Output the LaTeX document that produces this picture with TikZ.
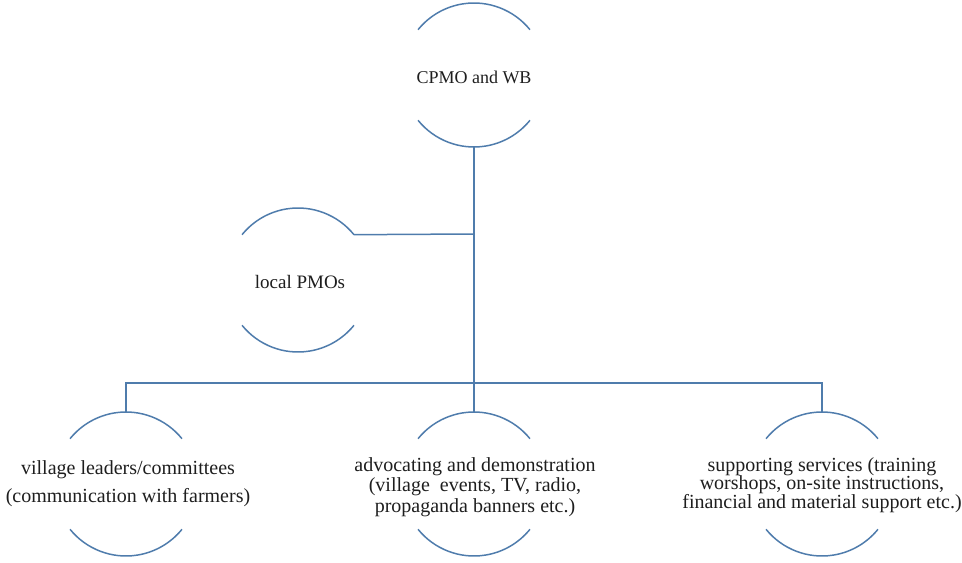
\documentclass[tikz,border=0pt]{standalone}
\usepackage{fontspec}
\setmainfont{Liberation Serif}
\definecolor{rimblue}{RGB}{79,124,172}
\definecolor{inkgray}{RGB}{30,30,30}

\tikzset{
    ring/.style={circle,minimum size=144bp,inner sep=0pt,outer sep=0pt},
    rim/.style={rimblue,line width=1.5bp},
    link/.style={rimblue,line width=1.5bp},
    tag/.style={inkgray,align=center,inner sep=0pt,
        font=\fontsize{20bp}{20.5bp}\selectfont},
}

\begin{document}
\begin{tikzpicture}[x=1bp,y=-1bp,line cap=butt,line join=miter]
        \useasboundingbox (0,0) rectangle (962,563);

        % Circulos (solo arcos superior e inferior)
        \node[ring] (cpmo) at (474,75) {};
        \node[ring] (pmo) at (298,280) {};
        \node[ring] (vil) at (126,484) {};
        \node[ring] (adv) at (474,484) {};
        \node[ring] (sup) at (822,484) {};
        \foreach \n in {cpmo,pmo,vil,adv,sup} {
            \draw[rim] (\n.39) arc[start angle=39,end angle=141,radius=72bp];
            \draw[rim] (\n.219) arc[start angle=219,end angle=321,radius=72bp];
        }

        % Textos
        \node[tag,font=\fontsize{18bp}{20bp}\selectfont] (cpmotext) at (474,77) {CPMO and WB};
        \node[tag,font=\fontsize{19bp}{20bp}\selectfont] (pmotext) at (300,282) {local PMOs};
        \node[tag,font=\fontsize{20bp}{28bp}\selectfont] (viltext) at (128,484)
            {village leaders/committees\\(communication with farmers)};
        \node[tag] (advtext) at (475,487)
            {advocating and demonstration\\(village\ \ events, TV, radio,\\propaganda banners etc.)};
        \node[tag,font=\fontsize{20bp}{18.5bp}\selectfont] (suptext) at (822,485)
            {supporting services (training\\worshops, on-site instructions,\\financial and material support etc.)};

        % Conectores
        \coordinate (hub) at (474,234);
        \coordinate (split) at (474,383);
        \draw[link] (cpmo.south) -- (split);
        \draw[link] (pmo.39) -- (hub);
        \draw[link] (vil.north) |- (split) -| (sup.north);
        \draw[link] (split) -- (adv.north);
    \end{tikzpicture}
\end{document}
